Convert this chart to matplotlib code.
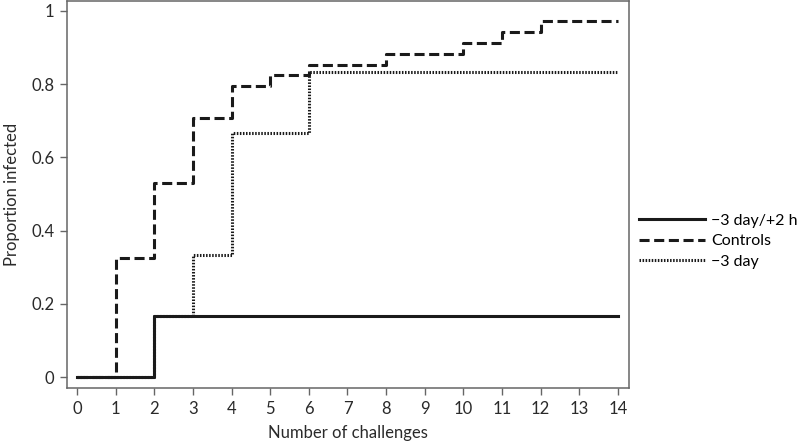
import matplotlib
matplotlib.use("Agg")
import matplotlib.pyplot as plt

challenges = list(range(0, 15))
controls = [0, 0.324, 0.529, 0.706, 0.794, 0.824, 0.853, 0.853, 0.882, 0.882, 0.912, 0.941, 0.971, 0.971, 0.971]
minus3day = [0, 0, 0.167, 0.333, 0.667, 0.667, 0.833, 0.833, 0.833, 0.833, 0.833, 0.833, 0.833, 0.833, 0.833]
minus3day_plus2h = [0, 0, 0.167, 0.167, 0.167, 0.167, 0.167, 0.167, 0.167, 0.167, 0.167, 0.167, 0.167, 0.167, 0.167]
labels = ["\u22123 day/+2 h", "Controls", "\u22123 day"]

plt.rcParams['font.family'] = ['Lato', 'DejaVu Sans']

fig = plt.figure(figsize=(7.98, 4.46), dpi=100)
ax = fig.add_axes([67/798, 1-388/446, (629-67)/798, 388/446 - 0.002])

lc = '#1a1a1a'
l3, = ax.step(challenges, minus3day, where='post', color=lc, lw=2.2, linestyle=(0, (0.5, 0.5)), label=labels[2], zorder=2)
l2, = ax.step(challenges, controls, where='post', color=lc, lw=2.2, linestyle=(0, (3.3, 1.5)), label=labels[1], zorder=3)
l1, = ax.step(challenges, minus3day_plus2h, where='post', color=lc, lw=2.2, linestyle='-', label=labels[0], zorder=4)

ax.set_xlim(-0.259, 14.285)
ax.set_ylim(-0.030, 1.027)
ax.set_xticks(challenges)
ax.set_yticks([0, 0.2, 0.4, 0.6, 0.8, 1])
ax.set_yticklabels(["0", "0.2", "0.4", "0.6", "0.8", "1"])
for s in ax.spines.values():
    s.set_color('#666666')
    s.set_linewidth(1.1)
ax.tick_params(axis='both', direction='out', length=5, width=1, color='#666666',
               labelsize=12, labelcolor='#2a2a2a', pad=4)
ax.set_xlabel("Number of challenges", fontsize=12, color='#2a2a2a', labelpad=6)
ax.set_ylabel("Proportion infected", fontsize=12, color='#2a2a2a', labelpad=8)

fig.legend(handles=[l1, l2, l3], labels=labels, loc='center left',
           bbox_to_anchor=(633/798, 1-241/446), frameon=False, fontsize=11.5,
           handlelength=4.1, handletextpad=0.4, labelspacing=0.4, borderaxespad=0)

fig.savefig("out.png", dpi=100)
